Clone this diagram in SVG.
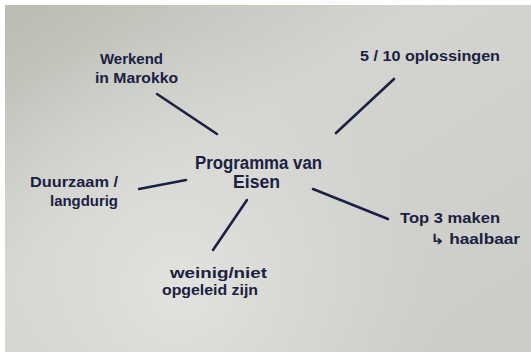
<svg xmlns="http://www.w3.org/2000/svg" width="531" height="352" viewBox="0 0 531 352">
<defs>
<linearGradient id="paper" x1="0" y1="0" x2="1" y2="1">
<stop offset="0" stop-color="#b9bcb3"/>
<stop offset="0.4" stop-color="#d4d5d0"/>
<stop offset="1" stop-color="#cbccc7"/>
</linearGradient>
<radialGradient id="glow" cx="180" cy="290" r="260" gradientUnits="userSpaceOnUse">
<stop offset="0" stop-color="#e4e5e1" stop-opacity="0.9"/>
<stop offset="0.6" stop-color="#dcddd8" stop-opacity="0.45"/>
<stop offset="1" stop-color="#d6d7d2" stop-opacity="0"/>
</radialGradient>
<style>
.t{font-family:"Liberation Sans","DejaVu Sans",sans-serif;font-weight:bold;fill:#1b2142;font-size:14px}
.big{font-size:18px}
.c{stroke:#1b2142;stroke-width:2.6;stroke-linecap:round;fill:none}
</style>
</defs>
<rect x="0" y="0" width="531" height="352" fill="#ffffff"/>
<rect x="5" y="5" width="526" height="347" fill="url(#paper)"/>
<rect x="5" y="5" width="526" height="347" fill="url(#glow)"/>
<g id="connectors">
<line class="c" x1="157" y1="94" x2="217" y2="134"/>
<line class="c" x1="394" y1="79" x2="336" y2="133"/>
<line class="c" x1="139" y1="189" x2="186" y2="180"/>
<line class="c" x1="313" y1="189" x2="388" y2="219"/>
<line class="c" x1="247" y1="200" x2="213" y2="250"/>
</g>
<g id="center">
<text class="t big" x="195" y="169" textLength="127" lengthAdjust="spacingAndGlyphs">Programma van</text>
<text class="t big" x="233" y="188" textLength="47" lengthAdjust="spacingAndGlyphs">Eisen</text>
</g>
<g id="werkend">
<text class="t" x="100" y="64" textLength="63" lengthAdjust="spacingAndGlyphs">Werkend</text>
<text class="t" x="95" y="83" textLength="83" lengthAdjust="spacingAndGlyphs">in Marokko</text>
</g>
<g id="oplossingen">
<text class="t" x="360" y="61" textLength="140" lengthAdjust="spacingAndGlyphs">5 / 10  oplossingen</text>
</g>
<g id="duurzaam">
<text class="t" x="30" y="187" textLength="88" lengthAdjust="spacingAndGlyphs">Duurzaam /</text>
<text class="t" x="50" y="206" textLength="68" lengthAdjust="spacingAndGlyphs">langdurig</text>
</g>
<g id="top3">
<text class="t" x="400" y="223" textLength="100" lengthAdjust="spacingAndGlyphs">Top 3 maken</text>
<text class="t" x="430" y="244" textLength="90" lengthAdjust="spacingAndGlyphs">↳ haalbaar</text>
</g>
<g id="weinig">
<text class="t" x="170" y="278" textLength="97" lengthAdjust="spacingAndGlyphs">weinig/niet</text>
<text class="t" x="162" y="295" textLength="96" lengthAdjust="spacingAndGlyphs">opgeleid zijn</text>
</g>
</svg>
